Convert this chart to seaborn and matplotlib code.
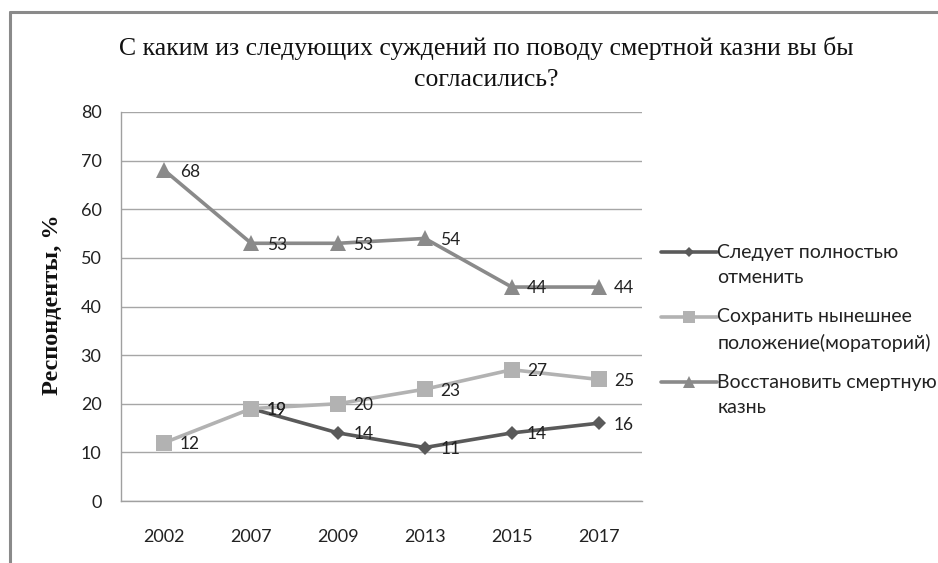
import matplotlib
matplotlib.use("Agg")
import matplotlib.pyplot as plt
import matplotlib.lines as mlines
import matplotlib.transforms as mtransforms
from matplotlib.legend_handler import HandlerLine2D
import seaborn as sns
import pandas as pd
import numpy as np

years = ["2002", "2007", "2009", "2013", "2015", "2017"]
abolish = [np.nan, 19, 14, 11, 14, 16]
keep = [12, 19, 20, 23, 27, 25]
restore = [68, 53, 53, 54, 44, 44]
series_names = ["Следует полностью\nотменить",
                 "Сохранить нынешнее\nположение(мораторий)",
                 "Восстановить смертную\nказнь"]
title = "С каким из следующих суждений по поводу смертной казни вы бы\nсогласились?"
ylabel = "Респонденты, %"

colors = ["#5a5a5a", "#b2b2b2", "#8a8a8a"]
markers = ["D", "s", "^"]
msizes = [7, 11, 11]

sns.set_theme(style="white")
plt.rcParams["font.family"] = ["Lato", "DejaVu Sans"]

fig = plt.figure(figsize=(9.38, 5.63), dpi=100)
ax = fig.add_axes([121/938, 1-501/563, (642-121)/938, (501-112)/563])

pos = list(range(len(years)))
df = pd.DataFrame({"pos": pos * 3,
                   "value": abolish + keep + restore,
                   "series": [s for s in series_names for _ in years]})

for i, (name, vals) in enumerate(zip(series_names, [abolish, keep, restore])):
    sub = df[df["series"] == name].dropna()
    sns.lineplot(data=sub, x="pos", y="value", ax=ax, color=colors[i],
                 marker=markers[i], markersize=msizes[i], markeredgewidth=0,
                 linewidth=2.6, sort=False, legend=False, zorder=3 + i)
    for j, v in enumerate(vals):
        if not np.isnan(v):
            ax.annotate(f"{int(v)}", (j, v), xytext=(11, -1), textcoords="offset points",
                        ha="left", va="center", fontsize=12.5, color="#222222", zorder=10)

ax.set_xlim(-0.5, 5.5)
ax.set_ylim(0, 80)
ax.set_xticks(pos)
ax.set_xticklabels(years)
ax.set_yticks(range(0, 81, 10))
ax.yaxis.grid(True, color="#a6a6a6", linewidth=1)
ax.xaxis.grid(False)
for s in ["top", "right"]:
    ax.spines[s].set_visible(False)
for s in ["left", "bottom"]:
    ax.spines[s].set_color("#a0a0a0")
    ax.spines[s].set_linewidth(1)
ax.tick_params(axis="both", labelsize=13, colors="#222222", length=0)
ax.tick_params(axis="y", pad=14)
ax.tick_params(axis="x", pad=20)
ax.set_xlabel("")
ax.set_ylabel("")

fig.text(52/938, 1-305/563, ylabel, rotation=90, ha="center", va="center",
         fontsize=17.5, fontweight="bold", family="Liberation Serif", color="#111111")
fig.text(486/938, 1-64/563, title, ha="center", va="center", fontsize=18.5,
         family="Liberation Serif", color="#111111", linespacing=1.5)


class FirstLineHandler(HandlerLine2D):
    """Align the legend key with the first line of a two-line label."""
    def __init__(self, shift_pt, **kw):
        super().__init__(**kw)
        self.shift_pt = shift_pt

    def create_artists(self, legend, orig_handle, xdescent, ydescent, width, height,
                       fontsize, trans):
        arts = super().create_artists(legend, orig_handle, xdescent, ydescent, width,
                                      height, fontsize, trans)
        t = mtransforms.Affine2D().translate(0, self.shift_pt) + trans
        for a in arts:
            a.set_transform(t)
        return arts


handles = [mlines.Line2D([], [], color=colors[i], marker=markers[i],
                         markersize=msizes[i] * 0.75, markeredgewidth=0, linewidth=2.6)
           for i in range(3)]
leg = fig.legend(handles, series_names, loc="center left",
                 bbox_to_anchor=(661/938, 1-330/563), frameon=False, fontsize=14,
                 handlelength=2.9, handletextpad=0.0, labelspacing=1.15,
                 borderaxespad=0, borderpad=0,
                 handler_map={mlines.Line2D: FirstLineHandler(9.4)})
for t in leg.get_texts():
    t.set_color("#222222")
    t.set_linespacing(1.58)

# outer frame
fig.add_artist(mlines.Line2D([10/938, 10/938], [0, 1-12/563], color="#8a8a8a", linewidth=2.2,
                             transform=fig.transFigure))
fig.add_artist(mlines.Line2D([10/938, 1], [1-12/563, 1-12/563], color="#8a8a8a", linewidth=2.2,
                             transform=fig.transFigure))

fig.savefig("out.png", dpi=100)
